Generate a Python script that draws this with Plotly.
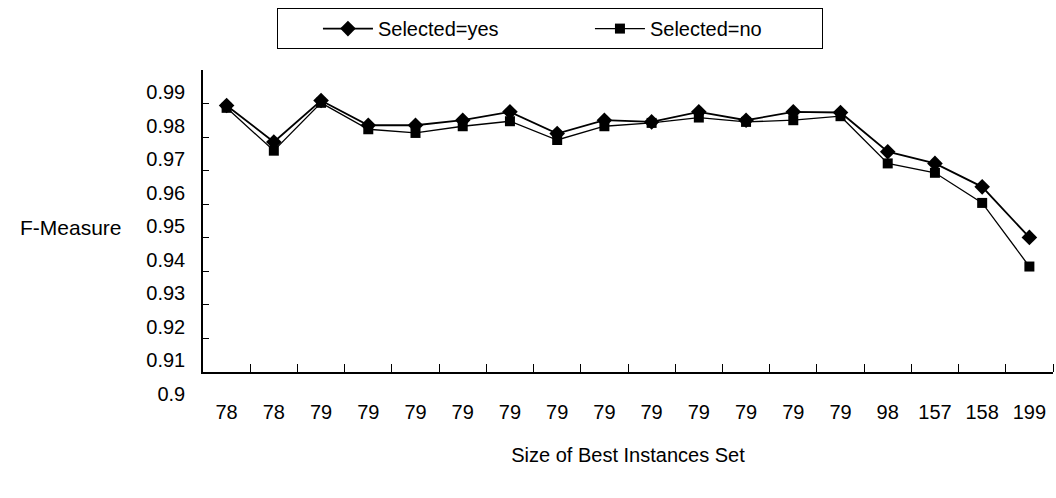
import plotly.graph_objects as go

# ---- data ----
size_labels = ["78", "78", "79", "79", "79", "79", "79", "79", "79",
               "79", "79", "79", "79", "79", "98", "157", "158", "199"]
selected_yes = [0.9795, 0.9686, 0.9810, 0.9736, 0.9736, 0.9751, 0.9776, 0.9711, 0.9751,
                0.9746, 0.9776, 0.9751, 0.9776, 0.9774, 0.9657, 0.9622, 0.9552, 0.9401]
selected_no = [0.9788, 0.9660, 0.9803, 0.9724, 0.9713, 0.9733, 0.9748, 0.9692, 0.9733,
               0.9743, 0.9759, 0.9746, 0.9751, 0.9763, 0.9622, 0.9594, 0.9504, 0.9314]
y_tick_values = [0.90, 0.91, 0.92, 0.93, 0.94, 0.95, 0.96, 0.97, 0.98, 0.99]
y_tick_labels = ["0.9", "0.91", "0.92", "0.93", "0.94", "0.95", "0.96", "0.97", "0.98", "0.99"]
x_title = "Size of Best Instances Set"
y_title = "F-Measure"

FONT = "Liberation Sans, Arial, sans-serif"
x_idx = list(range(len(size_labels)))

fig = go.Figure()
fig.add_trace(go.Scatter(
    x=x_idx, y=selected_yes, mode="lines+markers", name="Selected=yes",
    line=dict(color="black", width=1.8),
    marker=dict(symbol="diamond", size=12, color="black"),
))
fig.add_trace(go.Scatter(
    x=x_idx, y=selected_no, mode="lines+markers", name="Selected=no",
    line=dict(color="black", width=1.3),
    marker=dict(symbol="square", size=10, color="black"),
))

fig.update_layout(
    width=1056, height=498,
    margin=dict(l=203, r=3, t=70, b=126),
    paper_bgcolor="white", plot_bgcolor="white",
    font=dict(family=FONT, size=20, color="black"),
    showlegend=True,
    legend=dict(
        orientation="h", x=0.087, xanchor="left", y=1.205, yanchor="top",
        bordercolor="black", borderwidth=1, bgcolor="white",
        indentation=40, itemwidth=50,
        entrywidth=167, entrywidthmode="pixels",
        font=dict(family=FONT, size=20, color="black"),
    ),
    xaxis=dict(
        range=[-0.5, len(size_labels) - 0.5],
        tickmode="array", tickvals=x_idx, ticktext=size_labels,
        ticks="", showgrid=False, zeroline=False,
        showline=True, linecolor="black", linewidth=1.5,
        ticklabelstandoff=21,
        minor=dict(ticks="inside", ticklen=8, tickcolor="black", tickwidth=1,
                   tickmode="array", tickvals=[i + 0.5 for i in x_idx], showgrid=False),
        title=dict(text=x_title, standoff=26, font=dict(family=FONT, size=20)),
    ),
    yaxis=dict(
        range=[0.8999, 0.9901],
        tickmode="array", tickvals=y_tick_values, ticktext=y_tick_labels,
        ticks="inside", ticklen=6, tickcolor="black",
        showgrid=False, zeroline=False,
        showline=True, linecolor="black", linewidth=1.5,
        ticklabelshift=22, ticklabelstandoff=12,
    ),
    annotations=[dict(
        text=y_title, xref="paper", yref="paper", x=-0.155, y=0.48,
        xanchor="center", yanchor="middle", showarrow=False,
        font=dict(family=FONT, size=21, color="black"),
    )],
)

fig.write_html("out.html")
